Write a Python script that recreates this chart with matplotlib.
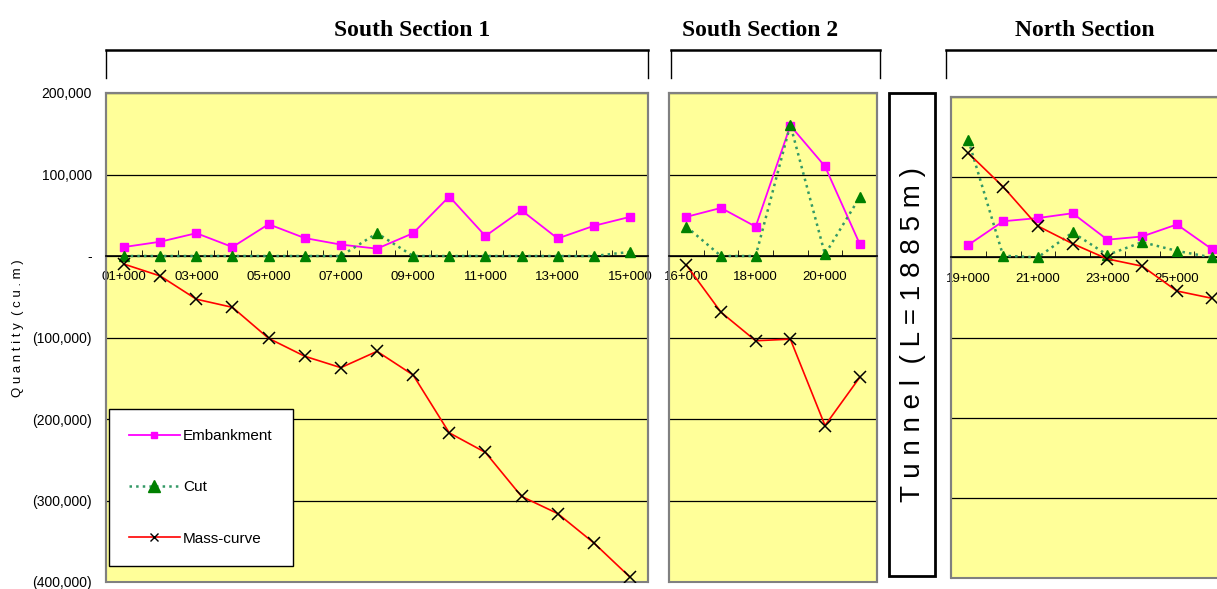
import numpy as np
import matplotlib
matplotlib.use('Agg')
import matplotlib.pyplot as plt
from matplotlib.patches import Rectangle
from matplotlib.lines import Line2D
from matplotlib.ticker import FuncFormatter, MultipleLocator

# stations for each section
s1_stations = ['01+000', '02+000', '03+000', '04+000', '05+000', '06+000', '07+000', '08+000',
               '09+000', '10+000', '11+000', '12+000', '13+000', '14+000', '15+000']
s2_stations = ['16+000', '17+000', '18+000', '19+000', '20+000', '21+000']
n_stations = ['19+000', '20+000', '21+000', '22+000', '23+000', '24+000', '25+000', '26+000']

# quantities (cu.m)
s1_embankment = [11000, 17500, 28000, 11000, 39000, 22000, 14000, 9000,
                 28000, 73000, 24500, 56000, 21500, 37000, 48000]
s1_cut = [0, 0, 0, 0, 0, 0, 0, 28000, 0, 0, 0, 0, 0, 0, 5000]
s1_mass = [-10000, -24500, -53000, -63000, -101000, -123000, -137000, -117000,
           -146000, -217000, -241000, -295000, -316000, -352000, -394000]

s2_embankment = [48000, 59000, 36000, 160000, 110000, 15000]
s2_cut = [36000, 0, 0, 161000, 2000, 72000]
s2_mass = [-11000, -69000, -104000, -102000, -208000, -149000]

n_embankment = [15500, 45000, 49000, 55000, 22000, 26000, 41000, 10500]
n_cut = [146000, 2000, 0, 31000, 3000, 19000, 8000, 0]
n_mass = [130000, 88000, 39000, 17000, -2000, -11000, -42000, -51000]

titles = ['South Section 1', 'South Section 2', 'North Section']

plt.rcParams['font.family'] = ['Liberation Sans', 'DejaVu Sans']

fig = plt.figure(figsize=(12.17, 5.89), dpi=100)
W, H = 1217.0, 589.0


def px_axes(x0, y0, x1, y1):
    return fig.add_axes([x0 / W, 1 - y1 / H, (x1 - x0) / W, (y1 - y0) / H])


def yfmt(v, pos):
    if v == 0:
        return '-'
    if v < 0:
        return '({:,.0f})'.format(-v)
    return '{:,.0f}'.format(v)


def draw_panel(ax, stations, emb, cut, mass, show_y):
    x = np.arange(len(stations))
    ax.set_facecolor('#FFFF99')
    ax.set_xlim(-0.5, len(stations) - 0.5)
    ax.set_ylim(-400000, 200000)
    ax.yaxis.set_major_locator(MultipleLocator(100000))
    ax.grid(axis='y', color='black', linewidth=0.9)
    ax.set_axisbelow(True)

    ax.plot(x, emb, color='#FF00FF', marker='s', markersize=6, linewidth=1.3,
            label='Embankment', zorder=4)
    ax.plot(x, cut, color='#339966', linestyle=':', linewidth=1.8, marker='^',
            markersize=7, markerfacecolor='#008000', markeredgecolor='#008000',
            label='Cut', zorder=5)
    ax.plot(x, mass, color='red', marker='x', markersize=8, markeredgecolor='black',
            markeredgewidth=1.1, linewidth=1.2, label='Mass-curve', zorder=6)

    # category axis crossing at zero
    for s in ['top', 'right', 'left']:
        ax.spines[s].set_color('#808080')
        ax.spines[s].set_linewidth(1.5)
    ax.spines['bottom'].set_position(('data', 0))
    ax.spines['bottom'].set_color('black')
    ax.spines['bottom'].set_linewidth(1.2)
    ax.add_patch(Rectangle((0, 0), 1, 1, transform=ax.transAxes, fill=False,
                           edgecolor='#808080', linewidth=1.5, clip_on=False, zorder=1))

    ax.set_xticks(x)
    ax.set_xticklabels([s if i % 2 == 0 else '' for i, s in enumerate(stations)],
                       fontsize=9.5)
    ax.set_xticks(np.arange(0.5, len(stations) - 0.5, 1), minor=True)
    ax.tick_params(axis='x', which='major', length=0, pad=11)
    ax.tick_params(axis='x', which='minor', length=4, direction='in', color='black')

    if show_y:
        ax.yaxis.set_major_formatter(FuncFormatter(yfmt))
        ax.tick_params(axis='y', length=0, labelsize=10, pad=10)
    else:
        ax.tick_params(axis='y', length=0, labelleft=False)


ax1 = px_axes(106, 93, 648, 582)
ax2 = px_axes(669, 93, 877, 582)
ax3 = px_axes(951, 97, 1229, 578)

draw_panel(ax1, s1_stations, s1_embankment, s1_cut, s1_mass, True)
draw_panel(ax2, s2_stations, s2_embankment, s2_cut, s2_mass, False)
draw_panel(ax3, n_stations, n_embankment, n_cut, n_mass, False)

# legend
handles = [
    Line2D([], [], color='#FF00FF', marker='s', markersize=5, linewidth=1.3),
    Line2D([], [], color='#339966', linestyle=':', linewidth=1.8, marker='^', markersize=8,
           markerfacecolor='#008000', markeredgecolor='#008000'),
    Line2D([], [], color='red', marker='x', markersize=6, markeredgecolor='black',
           markeredgewidth=1.0, linewidth=1.2),
]
leg = ax1.legend(handles, ['Embankment', 'Cut', 'Mass-curve'],
                 loc='upper left', bbox_to_anchor=(109 / W, 1 - 409 / H),
                 bbox_transform=fig.transFigure, fontsize=11,
                 frameon=True, fancybox=False, framealpha=1, labelspacing=2.45,
                 handlelength=3.35, handletextpad=0.2, borderpad=1.3, borderaxespad=0)
leg.get_frame().set_edgecolor('black')
leg.get_frame().set_linewidth(1.0)
leg.get_frame().set_facecolor('white')

# y label
fig.text(18 / W, 1 - 328 / H, 'Q u a n t i t y  ( c u . m )', rotation=90,
         ha='center', va='center', fontsize=9.5)

# section titles with brackets
title_pos = [(412, 106, 648), (760, 671, 880), (1085, 946, 1230)]
for t, (cx, bx0, bx1) in zip(titles, title_pos):
    fig.text(cx / W, 1 - 30 / H, t, ha='center', va='center', fontsize=17,
             fontweight='bold', family='Liberation Serif')
    fig.add_artist(Line2D([bx0 / W, bx1 / W], [1 - 50 / H, 1 - 50 / H],
                          color='black', linewidth=1.8))
    fig.add_artist(Line2D([bx0 / W, bx0 / W], [1 - 50 / H, 1 - 78 / H],
                          color='black', linewidth=1.0))
    if bx1 < W:
        fig.add_artist(Line2D([bx1 / W, bx1 / W], [1 - 50 / H, 1 - 78 / H],
                              color='black', linewidth=1.0))

# tunnel box
fig.add_artist(Rectangle((889 / W, 1 - 576 / H), 46 / W, 483 / H, transform=fig.transFigure,
                         facecolor='white', edgecolor='black', linewidth=2))
fig.text(913 / W, 1 - 334 / H, 'T u n n e l  ( L = 1 8 8 5 m )', rotation=90,
         ha='center', va='center', fontsize=20)

fig.savefig('out.png', dpi=100)
